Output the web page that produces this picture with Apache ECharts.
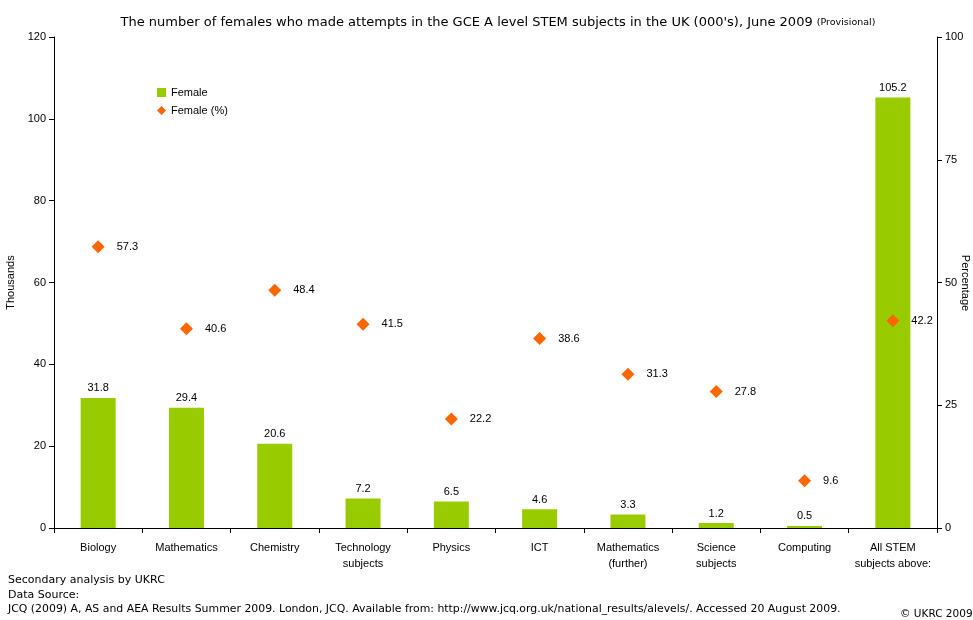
<!DOCTYPE html>
<html><head><meta charset="utf-8">
<script src="https://cdn.jsdelivr.net/npm/echarts@6/dist/echarts.min.js"></script>
<style>html,body{margin:0;padding:0;background:#fff}#c{width:973px;height:620px}</style>
</head><body><div id="c"></div>
<script>
const categories = ['Biology','Mathematics','Chemistry','Technology\nsubjects','Physics','ICT','Mathematics\n(further)','Science\nsubjects','Computing','All STEM\nsubjects above:'];
const femaleThousands = [31.8, 29.4, 20.6, 7.2, 6.5, 4.6, 3.3, 1.2, 0.5, 105.2];
const femalePercent = [57.3, 40.6, 48.4, 41.5, 22.2, 38.6, 31.3, 27.8, 9.6, 42.2];
const leftTicks = [0, 20, 40, 60, 80, 100, 120];
const rightTicks = [0, 25, 50, 75, 100];

const font = 'Liberation Sans, Arial, sans-serif';
const wide = 'DejaVu Sans, sans-serif';
const chart = echarts.init(document.getElementById('c'));
chart.setOption({
  animation: false,
  textStyle: {fontFamily: font},
  title: {
    text: '{a|The number of females who made attempts in the GCE A level STEM subjects in the UK (000\'s), June 2009 }{b|(Provisional)}',
    left: 493, top: 11, textAlign: 'center',
    textStyle: {fontWeight: 'normal', rich: {a: {fontSize: 13, fontWeight: 'normal', color: '#000', fontFamily: wide}, b: {fontSize: 9.5, fontWeight: 'normal', color: '#000', fontFamily: wide}}}
  },
  legend: {
    orient: 'vertical', left: 152, top: 82, itemGap: 7, itemWidth: 9, itemHeight: 9,
    textStyle: {fontSize: 11, color: '#000'},
    data: [{name: 'Female', icon: 'rect'}, {name: 'Female (%)', icon: 'diamond'}]
  },
  grid: {left: 54, right: 36, top: 37, bottom: 92, outerBoundsMode: 'none', containLabel: false},
  xAxis: {
    type: 'category', data: categories,
    axisLine: {lineStyle: {color: '#000'}},
    axisTick: {show: true, alignWithLabel: false, length: 5, lineStyle: {color: '#000'}},
    axisLabel: {color: '#000', fontSize: 11, margin: 12, lineHeight: 16, interval: 0}
  },
  yAxis: [{
    type: 'value', min: leftTicks[0], max: leftTicks[leftTicks.length-1], interval: 20,
    name: 'Thousands', nameLocation: 'middle', nameGap: 31, nameRotate: 90,
    nameTextStyle: {color: '#000', fontSize: 11},
    axisLine: {show: true, lineStyle: {color: '#000'}},
    axisTick: {show: true, length: 5, lineStyle: {color: '#000'}},
    axisLabel: {color: '#000', fontSize: 11, margin: 8},
    splitLine: {show: false}
  }, {
    type: 'value', min: rightTicks[0], max: rightTicks[rightTicks.length-1], interval: 25, position: 'right',
    axisLine: {show: true, lineStyle: {color: '#000'}},
    axisTick: {show: true, length: 5, lineStyle: {color: '#000'}},
    axisLabel: {color: '#000', fontSize: 11, margin: 8},
    splitLine: {show: false}
  }],
  series: [{
    name: 'Female', type: 'bar', data: femaleThousands, barWidth: 35,
    itemStyle: {color: '#99CC00'},
    label: {show: true, position: 'top', color: '#000', fontSize: 11, distance: 4}
  }, {
    name: 'Female (%)', type: 'scatter', yAxisIndex: 1, data: femalePercent,
    symbol: 'diamond', symbolSize: 13,
    itemStyle: {color: '#FF6600', opacity: 1},
    label: {show: true, position: 'right', color: '#000', fontSize: 11, distance: 12, opacity: 1}
  }],
  graphic: [
    {type: 'text', x: 965, y: 283, rotation: -Math.PI / 2, style: {text: 'Percentage', fontSize: 11, fill: '#000', fontFamily: font, align: 'center', verticalAlign: 'middle'}},
    {type: 'text', left: 8, top: 575, style: {text: 'Secondary analysis by UKRC', fontSize: 11, fill: '#000', fontFamily: wide}},
    {type: 'text', left: 8, top: 590, style: {text: 'Data Source:', fontSize: 11, fill: '#000', fontFamily: wide}},
    {type: 'text', left: 8, top: 604, style: {text: 'JCQ (2009) A, AS and AEA Results Summer 2009. London, JCQ. Available from: http://www.jcq.org.uk/national_results/alevels/. Accessed 20 August 2009.', fontSize: 10.9, fill: '#000', fontFamily: wide}},
    {type: 'text', left: 900, top: 609, style: {text: '© UKRC 2009', fontSize: 10.5, fill: '#000', fontFamily: wide}}
  ]
});
</script></body></html>
